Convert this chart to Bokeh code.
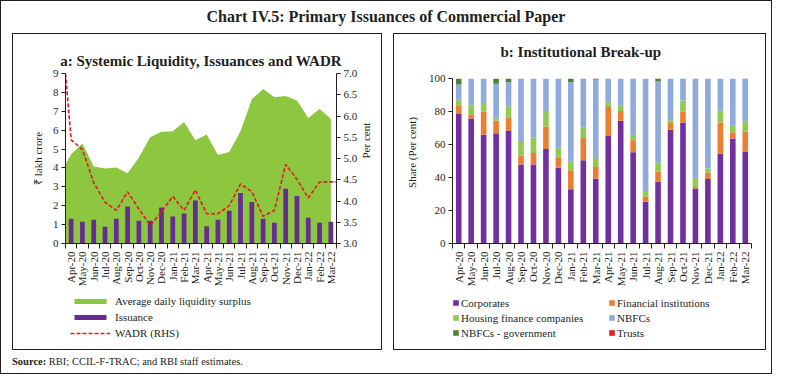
import math
from bokeh.plotting import figure
from bokeh.models import (Range1d, LinearAxis, FixedTicker, Legend, LegendItem, Div, Spacer,
                          NumeralTickFormatter)
from bokeh.layouts import column, row
from bokeh.embed import file_html
from bokeh.resources import INLINE

# ---------------- data ----------------
months = ["Apr-20", "May-20", "Jun-20", "Jul-20", "Aug-20", "Sep-20", "Oct-20", "Nov-20",
          "Dec-20", "Jan-21", "Feb-21", "Mar-21", "Apr-21", "May-21", "Jun-21", "Jul-21",
          "Aug-21", "Sep-21", "Oct-21", "Nov-21", "Dec-21", "Jan-22", "Feb-22", "Mar-22"]

# Panel a (₹ lakh crore / per cent)
liquidity_open = 4.2
liquidity = [4.72, 5.30, 4.07, 3.97, 4.02, 3.72, 4.55, 5.63, 5.91, 5.94, 6.43, 5.47,
             5.77, 4.69, 4.84, 5.94, 7.64, 8.18, 7.74, 7.81, 7.57, 6.64, 7.12, 6.61]
issuance = [1.31, 1.15, 1.26, 0.89, 1.31, 1.96, 1.21, 1.21, 1.91, 1.43, 1.59, 2.27,
            0.91, 1.26, 1.73, 2.67, 2.20, 1.31, 1.10, 2.90, 2.52, 1.36, 1.10, 1.15]
wadr_open = 7.0
wadr = [5.44, 5.21, 4.43, 3.97, 3.78, 4.22, 3.81, 3.43, 3.74, 4.11, 3.78, 4.26,
        3.70, 3.70, 3.89, 4.40, 4.22, 3.64, 3.78, 4.86, 4.51, 4.07, 4.45, 4.45]

# Panel b (share, per cent)
corporates = [79.0, 75.9, 66.0, 67.0, 68.6, 48.0, 48.0, 57.4, 46.0, 32.9, 50.5, 39.5,
              65.3, 74.5, 55.4, 25.4, 37.5, 69.0, 73.5, 33.3, 39.2, 54.5, 63.7, 55.8]
fin_inst = [4.9, 2.5, 14.0, 7.5, 7.8, 5.3, 6.9, 13.5, 6.3, 11.6, 13.6, 6.9,
            17.6, 5.9, 7.3, 3.0, 6.2, 4.1, 6.5, 1.0, 3.9, 19.0, 3.9, 12.2]
hfc = [3.4, 5.9, 5.3, 1.5, 6.9, 8.4, 9.4, 9.5, 6.1, 5.1, 6.5, 5.5,
       2.8, 3.3, 3.3, 3.5, 5.7, 1.8, 6.8, 5.3, 2.5, 7.3, 3.9, 6.1]
nbfc = [9.2, 15.7, 14.7, 21.0, 14.7, 38.3, 35.7, 19.6, 41.6, 48.4, 29.4, 47.6,
        14.3, 16.3, 34.0, 68.1, 49.0, 25.1, 13.2, 60.4, 54.4, 19.2, 28.5, 25.9]
nbfc_gov = [3.5, 0, 0, 3.0, 2.0, 0, 0, 0, 0, 2.0, 0, 0,
            0, 0, 0, 0, 1.6, 0, 0, 0, 0, 0, 0, 0]
trusts = [0, 0, 0, 0, 0, 0, 0, 0, 0, 0, 0, 0.5,
          0, 0, 0, 0, 0, 0, 0, 0, 0, 0, 0, 0]

left_ticks = [0, 1, 2, 3, 4, 5, 6, 7, 8, 9]
right_ticks = [3.0, 3.5, 4.0, 4.5, 5.0, 5.5, 6.0, 6.5, 7.0]
share_ticks = [0, 20, 40, 60, 80, 100]

# ---------------- style ----------------
FONT = "Liberation Serif"
INK = "#231F20"
LINE = "1px solid #231F20"
GREEN = "#8DC63F"
BAR_PURPLE = "#662D91"
RED = "#E31B23"
C_CORP = "#7030A0"
C_FI = "#ED7D31"
C_HFC = "#92C950"
C_NBFC = "#8FAADC"
C_GOV = "#4F8137"
C_TRUST = "#E21F26"

idx = list(range(len(months)))
bounds = [i - 0.5 for i in range(len(months) + 1)]
labels = {i: m for i, m in enumerate(months)}

TOP_BOX = {"border-top": LINE, "border-left": LINE, "border-right": LINE,
           "box-sizing": "content-box"}
BOTTOM_BOX = {"border-bottom": LINE, "border-left": LINE, "border-right": LINE,
              "box-sizing": "content-box"}


def style_common(p):
    p.xgrid.visible = False
    p.ygrid.visible = False
    p.outline_line_color = None
    p.title.text_font = FONT
    p.title.text_font_size = "15px"
    p.title.text_font_style = "bold"
    p.title.text_color = INK
    for ax in p.axis:
        ax.axis_line_color = INK
        ax.major_tick_line_color = INK
        ax.minor_tick_line_color = INK
        ax.major_label_text_font = FONT
        ax.major_label_text_font_size = "11px"
        ax.major_label_text_color = INK
        ax.axis_label_text_font = FONT
        ax.axis_label_text_font_size = "11px"
        ax.axis_label_text_font_style = "normal"
        ax.axis_label_text_color = INK
    xa = p.xaxis[0]
    xa.ticker = FixedTicker(ticks=idx, minor_ticks=bounds)
    xa.major_label_overrides = labels
    xa.major_tick_in = 0
    xa.major_tick_out = 0
    xa.minor_tick_in = 0
    xa.minor_tick_out = 5
    xa.major_label_orientation = math.pi / 2
    xa.major_label_standoff = 3


def legend_figure(width, border_left, border_right):
    # legend strip under a chart; same side borders as the chart so the frames line up
    f = figure(width=width, height=61, x_range=Range1d(0, 1), y_range=Range1d(0, 1),
               x_axis_type=None, y_axis_type=None, min_border_left=border_left,
               min_border_right=border_right, min_border_top=0, min_border_bottom=0,
               output_backend="svg", toolbar_location=None, outline_line_color=None,
               styles=BOTTOM_BOX)
    f.xgrid.visible = False
    f.ygrid.visible = False
    return f


def make_legend(items, loc, gw, gh, spacing, standoff):
    return Legend(items=items, location=loc, orientation="vertical", glyph_width=gw,
                  glyph_height=gh, label_text_font=FONT, label_text_font_size="11px",
                  label_text_color=INK, padding=0, margin=0, spacing=spacing,
                  label_standoff=standoff, label_height=13, border_line_color=None,
                  background_fill_alpha=0)


# ---------------- panel a ----------------
A_LEFT, A_RIGHT = 52, 47
pa = figure(width=368, height=254, x_range=Range1d(-0.5, 23.5), y_range=Range1d(0, 9),
            output_backend="svg", toolbar_location=None,
            title="a: Systemic Liquidity, Issuances and WADR",
            min_border_left=A_LEFT, min_border_right=A_RIGHT, min_border_top=39,
            min_border_bottom=43, styles=TOP_BOX)
pa.extra_y_ranges = {"wadr": Range1d(3, 7)}
rax = LinearAxis(y_range_name="wadr", axis_label="Per cent",
                 ticker=FixedTicker(ticks=right_ticks),
                 formatter=NumeralTickFormatter(format="0.0"))
pa.add_layout(rax, "right")
style_common(pa)
pa.title.align = "center"
pa.title.standoff = 9
ya = pa.yaxis[0]
ya.ticker = FixedTicker(ticks=left_ticks)
ya.axis_label = "₹ lakh crore"
for ax in pa.yaxis:
    ax.major_tick_in = 0
    ax.major_tick_out = 4
    ax.minor_tick_out = 0
    ax.minor_tick_in = 0
    ax.major_label_standoff = 3
    ax.axis_label_standoff = 6
rax.axis_label_orientation = math.pi / 2

area_x = [idx[0] - 0.5] + idx
area_y = [liquidity_open] + liquidity
pa.varea(x=area_x, y1=0, y2=area_y, fill_color=GREEN)
pa.vbar(x=idx, top=issuance, width=0.42, fill_color=BAR_PURPLE, line_color=None)
line_x = [idx[0] - 0.5] + idx + [idx[-1] + 0.5]
line_y = [wadr_open] + wadr + [wadr[-1]]
pa.line(x=line_x, y=line_y, y_range_name="wadr", line_color=RED, line_dash="4 2",
        line_width=1.6)

# legend strip of panel a: zero-size key glyphs carrying the chart's styles
la = legend_figure(368, A_LEFT, A_RIGHT)
k_area = la.varea(x=[0, 0], y1=[0, 0], y2=[0, 0], fill_color=GREEN)
k_bar = la.vbar(x=[0], top=[0], width=0.42, fill_color=BAR_PURPLE, line_color=None)
k_line = la.line(x=[0, 0], y=[0, 0], line_color=RED, line_dash="4 2", line_width=1.6)
la.add_layout(make_legend([LegendItem(label="Average daily liquidity surplus", renderers=[k_area]),
                           LegendItem(label="Issuance", renderers=[k_bar]),
                           LegendItem(label="WADR (RHS)", renderers=[k_line])],
                          (5, 11), 40, 6, 3, 5), "center")

# ---------------- panel b ----------------
B_LEFT, B_RIGHT = 58, 16
# the plotting area reaches a little above 100 so the subtitle sits higher;
# the axis line itself stops at 100
pb = figure(width=371, height=254, x_range=Range1d(-0.5, 23.5), y_range=Range1d(0, 110.5),
            output_backend="svg", toolbar_location=None, title="b: Institutional Break-up",
            min_border_left=B_LEFT, min_border_right=B_RIGHT, min_border_top=27,
            min_border_bottom=40, styles=TOP_BOX)
style_common(pb)
pb.title.align = "left"
pb.title.offset = 48
pb.title.standoff = 4
yb = pb.yaxis[0]
yb.ticker = FixedTicker(ticks=share_ticks)
yb.bounds = (share_ticks[0], share_ticks[-1])
yb.axis_label = "Share (Per cent)"
yb.major_tick_in = 0
yb.major_tick_out = 4
yb.minor_tick_out = 0
yb.minor_tick_in = 0
yb.major_label_standoff = 3
yb.axis_label_standoff = 8

stack_data = {"x": idx, "Corporates": corporates, "Financial institutions": fin_inst,
              "Housing finance companies": hfc, "NBFCs": nbfc,
              "NBFCs - government": nbfc_gov, "Trusts": trusts}
names = ["Corporates", "Financial institutions", "Housing finance companies", "NBFCs",
         "NBFCs - government", "Trusts"]
colors = [C_CORP, C_FI, C_HFC, C_NBFC, C_GOV, C_TRUST]
pb.vbar_stack(names, x="x", width=0.45, color=colors, line_color=None, source=stack_data)

lb = legend_figure(371, B_LEFT, B_RIGHT)
keys = {n: lb.vbar(x=[0], top=[0], width=0.45, fill_color=c, line_color=None)
        for n, c in zip(names, colors)}
col1 = ["Corporates", "Housing finance companies", "NBFCs - government"]
col2 = ["Financial institutions", "NBFCs", "Trusts"]
lb.add_layout(make_legend([LegendItem(label=n, renderers=[keys[n]]) for n in col1],
                          (0, 11), 7, 7, 2, 2), "center")
lb.add_layout(make_legend([LegendItem(label=n, renderers=[keys[n]]) for n in col2],
                          (156, 11), 7, 7, 2, 2), "center")

# ---------------- page ----------------
title_div = Div(text="Chart IV.5: Primary Issuances of Commercial Paper", width=770, height=32,
                styles={"font-family": FONT, "font-weight": "bold", "font-size": "16px",
                        "text-align": "center", "line-height": "32px", "color": INK,
                        "border-top": LINE, "border-left": LINE, "border-right": LINE,
                        "box-sizing": "content-box", "margin": "0px", "padding": "0px"})
left_pad = Spacer(width=11, height=317,
                  styles={"border-left": LINE, "box-sizing": "content-box", "flex-shrink": "0"})
mid_pad = Spacer(width=11, height=317, styles={"flex-shrink": "0"})
right_pad = Spacer(width=5, height=317,
                   styles={"border-right": LINE, "box-sizing": "content-box", "flex-shrink": "0"})
source_div = Div(text="<b>Source:</b> RBI; CCIL-F-TRAC; and RBI staff estimates.",
                 width=759, height=23,
                 styles={"font-family": FONT, "font-size": "10.5px", "line-height": "23px",
                         "color": INK, "padding-left": "11px", "border-left": LINE,
                         "border-right": LINE, "border-bottom": LINE,
                         "box-sizing": "content-box", "margin": "0px"})
page = column(title_div,
              row(left_pad, column(pa, la), mid_pad, column(pb, lb), right_pad),
              source_div)

open("out.html", "w").write(file_html(page, INLINE))
